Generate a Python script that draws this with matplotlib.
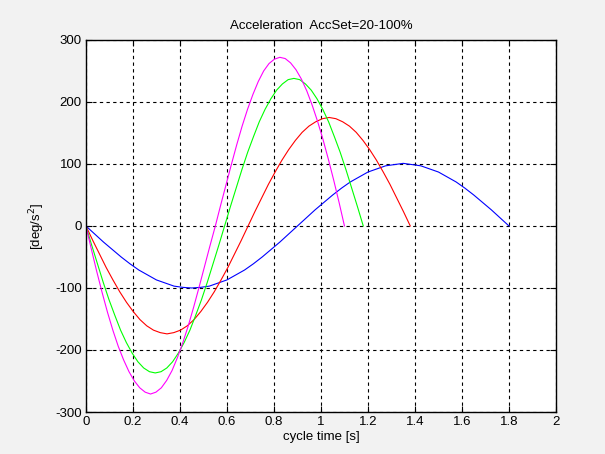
import matplotlib
matplotlib.use('Agg')
import matplotlib.pyplot as plt
import matplotlib.ticker as mticker
import numpy as np

plt.rcParams['font.family'] = ['Liberation Sans', 'DejaVu Sans']

###############################################################################
# Data (acceleration in deg/s^2 over one cycle)
###############################################################################
cycle_ends = [1.80, 1.38, 1.18, 1.10]   # cycle time of each curve [s]
line_colors = ['#0000ff', '#ff0000', '#00ff00', '#ff00ff']

acc_blue = [0, -13, -26, -38, -50, -61, -71, -79, -87, -92, -97, -99, -100,
            -99, -97, -92, -87, -79, -71, -61, -50, -38, -26, -13, 0,
            13, 26, 38, 50, 61, 71, 79, 87, 92, 97, 99, 101,
            99, 97, 92, 87, 79, 71, 61, 50, 38, 26, 13, 0]
acc_red = [0, -23, -45, -67, -87, -106, -123, -138, -151, -161, -168, -172, -174,
           -172, -168, -161, -151, -138, -123, -106, -87, -67, -45, -23, 0,
           23, 45, 67, 87, 106, 123, 138, 151, 161, 168, 173, 175,
           173, 168, 161, 151, 138, 123, 106, 87, 67, 45, 23, 0]
acc_green = [0, -31, -61, -91, -119, -144, -168, -188, -205, -219, -229, -235, -237,
             -235, -229, -219, -205, -188, -168, -144, -119, -91, -61, -31, 0,
             31, 61, 91, 119, 144, 168, 188, 205, 219, 229, 236, 238,
             236, 229, 219, 205, 188, 168, 144, 119, 91, 61, 31, 0]
acc_magenta = [0, -37, -73, -107, -139, -168, -194, -216, -235, -250, -261, -268, -271,
               -268, -261, -249, -233, -212, -188, -161, -131, -99, -66, -33, -1,
               33, 66, 99, 131, 161, 188, 212, 233, 250, 262, 269, 272,
               270, 263, 252, 237, 218, 195, 169, 140, 108, 74, 38, 0]

series = [acc_blue, acc_red, acc_green, acc_magenta]

x_ticks = [0, 0.2, 0.4, 0.6, 0.8, 1, 1.2, 1.4, 1.6, 1.8, 2]
y_ticks = [-300, -200, -100, 0, 100, 200, 300]

###############################################################################
# Plot
###############################################################################
fig = plt.figure(figsize=(6.05, 4.54), dpi=100, facecolor='#f2f2f2')
ax = fig.add_axes([0.142, 0.0925, 0.777, 0.8195])
ax.set_facecolor('white')

for values, t_end, col in zip(series, cycle_ends, line_colors):
    t = np.linspace(0, t_end, len(values))
    ax.plot(t, values, color=col, lw=0.8)

ax.set_xlim(0, 2)
ax.set_ylim(-300, 300)
ax.set_xticks(x_ticks)
ax.set_yticks(y_ticks)
ax.xaxis.set_major_formatter(mticker.FormatStrFormatter('%g'))
ax.yaxis.set_major_formatter(mticker.FormatStrFormatter('%g'))
ax.tick_params(direction='in', top=True, right=True, labelsize=9.5,
               length=4, width=0.8, pad=3)
ax.grid(True, color='black', linestyle=(0, (3, 3)), lw=0.8)
for s in ax.spines.values():
    s.set_linewidth(1.0)

ax.set_title('Acceleration  AccSet=20-100%', fontsize=9.5, pad=8)
ax.set_xlabel('cycle time [s]', fontsize=9.5, labelpad=2)
ax.set_ylabel('[deg/s$^2$]', fontsize=9.5, labelpad=6)

plt.savefig('out.png', dpi=100, facecolor=fig.get_facecolor())
